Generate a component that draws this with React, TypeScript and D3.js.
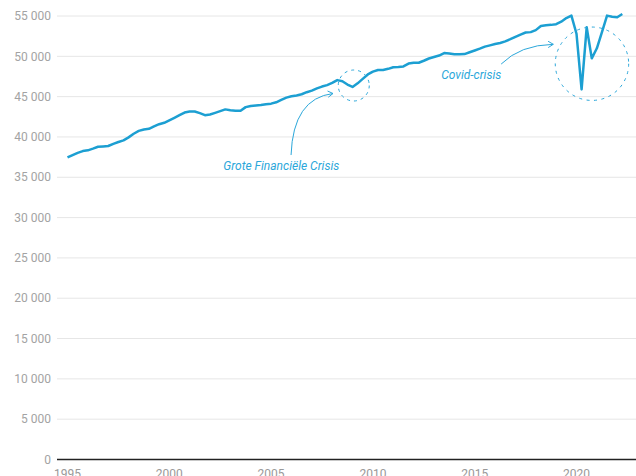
import * as d3 from "d3";

// quarterly values, 1995 Q1 .. 2022 Q2
const startYear = 1995;
const values = [
  37460, 37750, 38030, 38250, 38340, 38550, 38780, 38830, // 1995-1996
  38880, 39150, 39380, 39580, 39950, 40400, 40750, 40920, // 1997-1998
  41010, 41300, 41580, 41760, 42070, 42380, 42700, 43030, // 1999-2000
  43150, 43150, 42950, 42700, 42790, 42990, 43200, 43420, // 2001-2002
  43300, 43240, 43250, 43700, 43850, 43900, 43950, 44060, // 2003-2004
  44130, 44300, 44600, 44880, 45050, 45150, 45300, 45550, // 2005-2006
  45750, 46020, 46250, 46430, 46700, 47050, 46900, 46500, // 2007-2008
  46200, 46650, 47200, 47750, 48100, 48300, 48300, 48450, // 2009-2010
  48650, 48680, 48750, 49100, 49200, 49200, 49450, 49730, // 2011-2012
  49920, 50100, 50400, 50350, 50250, 50250, 50280, 50500, // 2013-2014
  50720, 50950, 51200, 51360, 51520, 51650, 51850, 52120, // 2015-2016
  52420, 52700, 52950, 53000, 53250, 53760, 53850, 53900, // 2017-2018
  53980, 54300, 54750, 55050, 52800, 45900, 53600, 49750, // 2019-2020
  51000, 53000, 55050, 54900, 54850, 55250, // 2021-2022
];
const yTicks = [0, 5000, 10000, 15000, 20000, 25000, 30000, 35000, 40000, 45000, 50000, 55000];
const xTicks = [1995, 2000, 2005, 2010, 2015, 2020];

const gfcLabel = "Grote Financiële Crisis";
const covidLabel = "Covid-crisis";

const width = 636;
const height = 476;
const lineColor = "#1c9fd2";
const noteColor = "#2ba7da";

const fmt = d3.formatLocale({ decimal: ",", thousands: " ", grouping: [3], currency: ["", ""] }).format(",");

const points = values.map((v, i) => ({ t: startYear + i / 4, v }));

const arrowHead = (cx: number, cy: number, ex: number, ey: number) => {
  const a = Math.atan2(ey - cy, ex - cx);
  const len = 6;
  const p1 = [ex - len * Math.cos(a - 0.55), ey - len * Math.sin(a - 0.55)];
  const p2 = [ex - len * Math.cos(a + 0.55), ey - len * Math.sin(a + 0.55)];
  return `M${p1[0]},${p1[1]}L${ex},${ey}L${p2[0]},${p2[1]}`;
};

export default function App() {
  const x = d3.scaleLinear().domain([1995, 2020]).range([67.5, 576.5]);
  const y = d3.scaleLinear().domain([0, 55000]).range([459.5, 16]);

  const line = d3
    .line<{ t: number; v: number }>()
    .x((d) => x(d.t))
    .y((d) => y(d.v));

  // annotation anchors, in data units
  const gfcStart = [x(2005.98), y(37760)];
  const gfcCtrl = [x(2006.08), y(44780)];
  const gfcEnd = [x(2008.04), y(45390)];
  const covStart = [x(2016.3), y(49040)];
  const covCtrl = [x(2017.23), y(51400)];
  const covEnd = [x(2018.86), y(51490)];

  return (
    <svg
      width={width}
      height={height}
      style={{ position: "absolute", left: 0, top: 0, fontFamily: "Roboto, sans-serif" }}
    >
      <rect width={width} height={height} fill="#fff" />
      {yTicks.map((t) => (
        <g key={t}>
          <line
            x1={57}
            x2={width}
            y1={y(t)}
            y2={y(t)}
            stroke={t === 0 ? "#222" : "#e6e6e6"}
            strokeWidth={t === 0 ? 1.3 : 1}
          />
          <text x={51} y={y(t)} dy="0.35em" textAnchor="end" fontSize={12} fill="#a3a3a3">
            {fmt(t)}
          </text>
        </g>
      ))}
      {xTicks.map((t) => (
        <text key={t} x={x(t)} y={477.5} textAnchor="middle" fontSize={12} fill="#999">
          {t}
        </text>
      ))}

      <path d={line(points) ?? ""} fill="none" stroke={lineColor} strokeWidth={2.5} strokeLinejoin="round" />

      {/* Grote Financiële Crisis */}
      <circle
        cx={x(2009.06)}
        cy={y(46380)}
        r={15.5}
        fill="none"
        stroke={noteColor}
        strokeWidth={1}
        strokeDasharray="3 4"
      />
      <path
        d={`M${gfcStart[0]},${gfcStart[1]}Q${gfcCtrl[0]},${gfcCtrl[1]} ${gfcEnd[0]},${gfcEnd[1]}`}
        fill="none"
        stroke={noteColor}
        strokeWidth={1}
      />
      <path d={arrowHead(gfcCtrl[0], gfcCtrl[1], gfcEnd[0], gfcEnd[1])} fill="none" stroke={noteColor} strokeWidth={1} />
      <text x={x(2005.5)} y={y(35840)} textAnchor="middle" fontSize={12} fontStyle="italic" fill={noteColor}>
        {gfcLabel}
      </text>

      {/* Covid-crisis */}
      <circle
        cx={x(2020.76)}
        cy={y(49080)}
        r={36.7}
        fill="none"
        stroke={noteColor}
        strokeWidth={1}
        strokeDasharray="3 4.5"
      />
      <path
        d={`M${covStart[0]},${covStart[1]}Q${covCtrl[0]},${covCtrl[1]} ${covEnd[0]},${covEnd[1]}`}
        fill="none"
        stroke={noteColor}
        strokeWidth={1}
      />
      <path d={arrowHead(covCtrl[0], covCtrl[1], covEnd[0], covEnd[1])} fill="none" stroke={noteColor} strokeWidth={1} />
      <text x={x(2014.83)} y={y(47180)} textAnchor="middle" fontSize={12} fontStyle="italic" fill={noteColor}>
        {covidLabel}
      </text>
    </svg>
  );
}
